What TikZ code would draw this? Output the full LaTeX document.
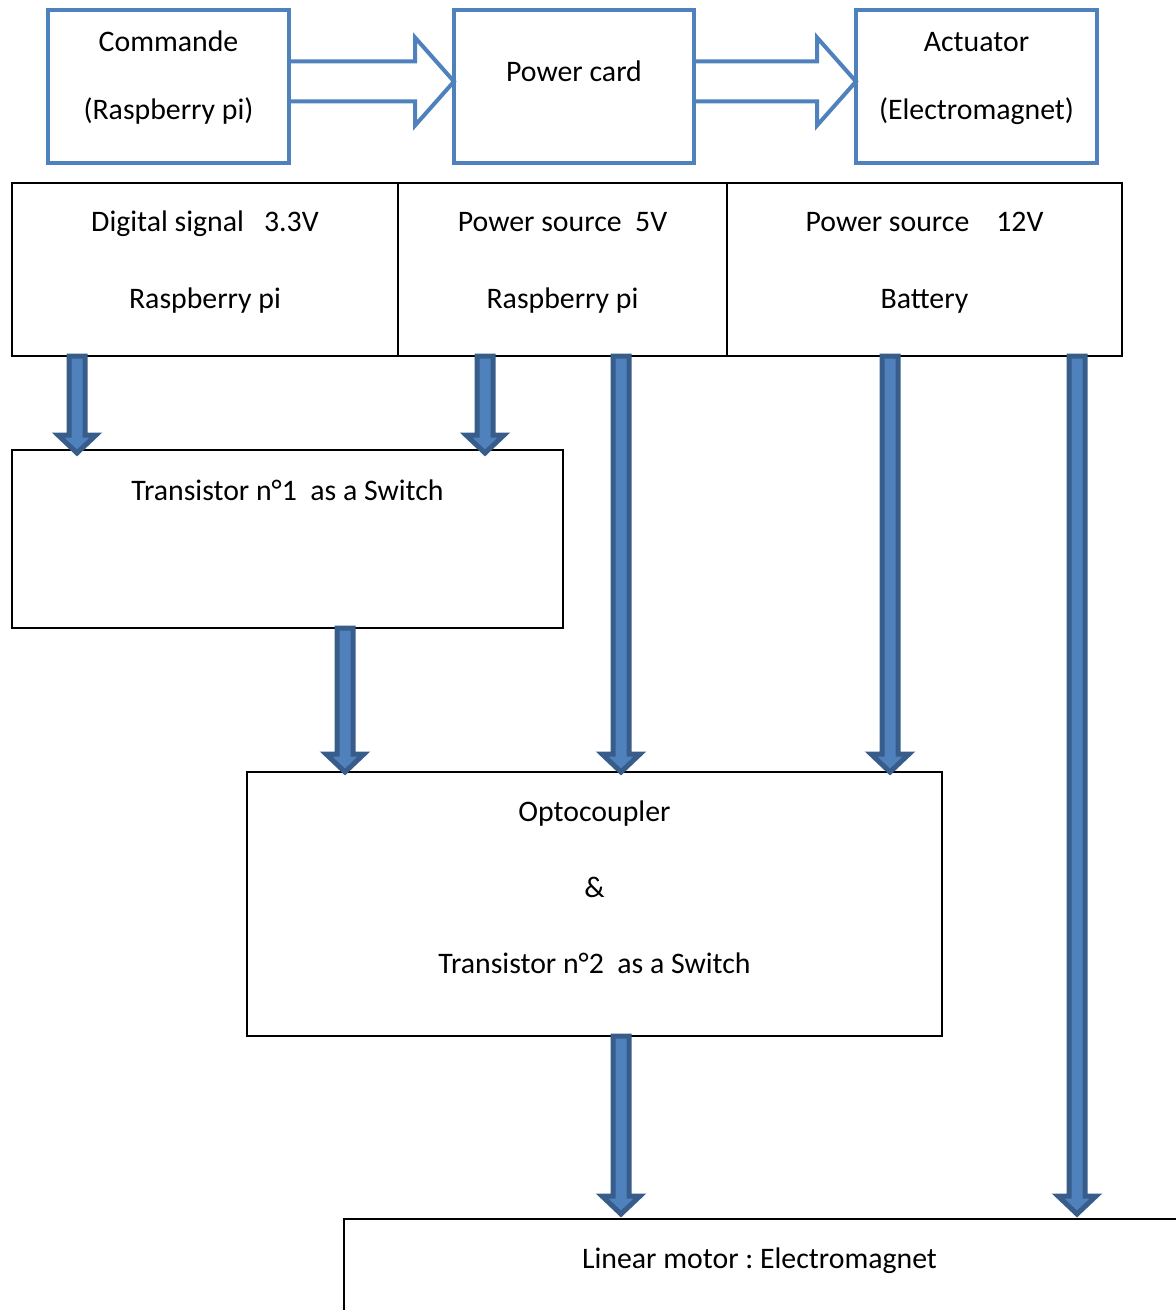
\documentclass[tikz,border=0pt]{standalone}
\usepackage{fontspec}
\setmainfont{Carlito}
\usetikzlibrary{calc,fit}
\definecolor{boxblue}{HTML}{4F81BD}
\definecolor{arrdark}{HTML}{385D8A}
\frenchspacing
\newcommand\hollowarr[2]{%
  \draw[hollow] ($#1+(0,-20)$) -- ($#2+(-39,-20)$) -- ($#2+(-39,-44)$) -- #2
    -- ($#2+(-39,44)$) -- ($#2+(-39,20)$) -- ($#1+(0,20)$);}
\newcommand\bigarr[2]{%
  \draw[bigarrow] ($#1+(-8,0)$) -- ($#2+(-8,-18)$) -- ($#2+(-19,-18)$) -- #2
    -- ($#2+(19,-18)$) -- ($#2+(8,-18)$) -- ($#1+(8,0)$) -- cycle;}
\begin{document}
\begin{tikzpicture}[x=0.5pt,y=-0.5pt,
  bluebox/.style={draw=boxblue, line width=2.25pt, inner sep=0pt, outer sep=0pt},
  blackbox/.style={draw=black, line width=1pt, inner sep=0pt, outer sep=0pt},
  txt/.style={font=\fontsize{14.9}{17.5}\selectfont, anchor=base, inner sep=0pt},
  bigarrow/.style={fill=boxblue, draw=arrdark, line width=2.5pt, line join=miter},
  hollow/.style={fill=white, draw=boxblue, line width=2pt, line join=miter}]
\useasboundingbox (0,0) rectangle (1175,1310);

% top row: arrows first, box outlines drawn over them
\node[bluebox, draw=none, fit={(48,10) (289,163)}] (cmd) {};
\node[bluebox, draw=none, fit={(454,10) (694,163)}] (pc) {};
\node[bluebox, draw=none, fit={(856,10) (1097,163)}] (act) {};
\coordinate (h1s) at ($(cmd.east)+(0,-5)$);
\coordinate (h1e) at ($(pc.west)+(0,-5)$);
\coordinate (h2s) at ($(pc.east)+(0,-5)$);
\coordinate (h2e) at ($(act.west)+(0,-5)$);
\hollowarr{(h1s)}{(h1e)}
\hollowarr{(h2s)}{(h2e)}
\draw[bluebox] (cmd.south west) rectangle (cmd.north east);
\draw[bluebox] (pc.south west) rectangle (pc.north east);
\draw[bluebox] (act.south west) rectangle (act.north east);

\node[txt] (t1) at (168.5,52) {Commande};
\node[txt] (t2) at (168.5,120) {(Raspberry pi)};
\node[txt] (t3) at (574,82) {Power card};
\node[txt] (t4) at (976.5,52) {Actuator};
\node[txt] (t5) at (976.5,120) {(Electromagnet)};

% second row
\node[blackbox, fit={(12,183) (398,356)}] (dig) {};
\node[blackbox, fit={(398,183) (727,356)}] (ps5) {};
\node[blackbox, fit={(727,183) (1122,356)}] (ps12) {};
\node[txt] (t6) at (205,232) {Digital signal\ \ \ 3.3V};
\node[txt] (t7) at (205,308) {Raspberry pi};
\node[txt] (t8) at (562.5,232) {Power source\ \ 5V};
\node[txt] (t9) at (562.5,308) {Raspberry pi};
\node[txt] (t10) at (924.5,232) {Power source\ \ \ \ 12V};
\node[txt] (t11) at (924.5,308) {Battery};

% transistor 1
\node[blackbox, fit={(12,450) (563,628)}] (tr1) {};
\node[txt] (t12) at (287.5,500) {Transistor n°1\ \ as a Switch};

% optocoupler
\node[blackbox, fit={(247,772) (942,1036)}] (opto) {};
\node[txt] (t13) at (594.5,821) {Optocoupler};
\node[txt] (t14) at (594.5,897) {\&};
\node[txt] (t15) at (594.5,973) {Transistor n°2\ \ as a Switch};

% motor
\node[blackbox, fit={(344,1219) (1190,1340)}] (motor) {};
\node[txt] (t16) at (759.5,1268) {Linear motor : Electromagnet};

% thick arrows
\bigarr{($(dig.south west)+(65,0)$)}{($(tr1.north west)+(65,3)$)}
\bigarr{($(ps5.south west)+(87,0)$)}{($(tr1.north west)+(473,3)$)}
\bigarr{($(ps5.south west)+(223,0)$)}{($(opto.north west)+(374,0)$)}
\bigarr{($(ps12.south west)+(163,0)$)}{($(opto.north west)+(643,0)$)}
\bigarr{($(ps12.south west)+(350,0)$)}{($(motor.north west)+(733,-5)$)}
\bigarr{($(tr1.south west)+(333,0)$)}{($(opto.north west)+(98,0)$)}
\bigarr{($(opto.south west)+(374,0)$)}{($(motor.north west)+(277,-5)$)}
\end{tikzpicture}
\end{document}
